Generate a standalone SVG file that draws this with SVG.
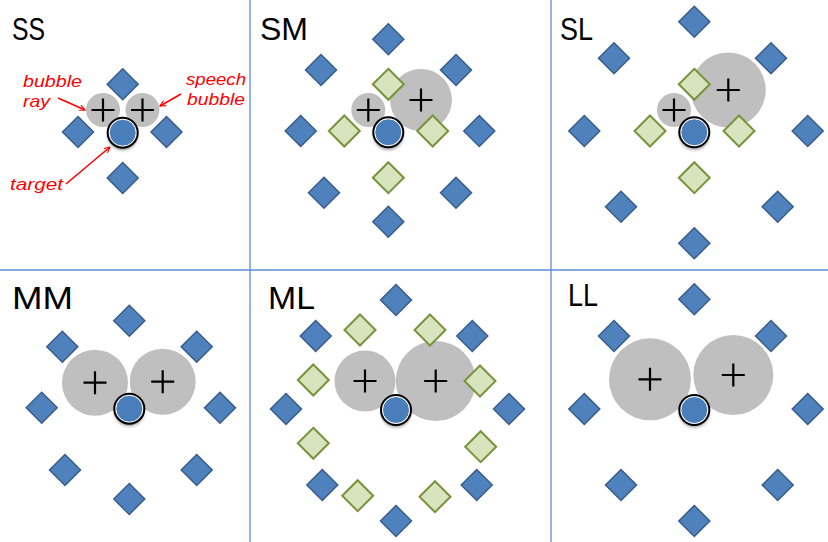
<svg xmlns="http://www.w3.org/2000/svg" xmlns:xlink="http://www.w3.org/1999/xlink" width="828" height="542" viewBox="0 0 828 542">
  <style>
    .grid { stroke: #5a8ed8; stroke-width: 1.3; }
    .b { fill: #4f81bd; stroke: #385d8a; stroke-width: 1.5; }
    .g { fill: #d7e4bd; stroke: #77933c; stroke-width: 2; }
    .bub { fill: #bfbfbf; }
    .plus { stroke: #000; stroke-width: 2.2; fill: none; }
    .tfill { fill: #4a7ebb; stroke: #fff; stroke-width: 1; }
    .tring { fill: none; stroke: #000; stroke-width: 2; }
    .title { font-family: "Liberation Sans", Arial, sans-serif; font-size: 31px; fill: #000; }
    .ann { font-family: "Liberation Sans", Arial, sans-serif; font-size: 17px; font-style: italic; fill: #ff0000; }
    .arr { stroke: #ff0000; stroke-width: 1.6; fill: none; marker-end: url(#ah); }
  </style>
  <defs>
    <path id="dm" d="M0,-15.5 L15.5,0 L0,15.5 L-15.5,0 Z"/>
    <path id="pl" d="M-11.5,0 H11.5 M0,-11.5 V11.5"/>
    <g id="tg">
      <circle r="15" fill="#ffffff" filter="url(#sh)"/>
      <circle r="13.5" class="tfill"/>
      <circle r="15" class="tring"/>
    </g>
    <filter id="sh" x="-50%" y="-50%" width="200%" height="200%">
      <feDropShadow dx="0" dy="2.5" stdDeviation="1.8" flood-color="#000" flood-opacity="0.4"/>
    </filter>
    <marker id="ah" viewBox="0 0 10 10" refX="9" refY="5" markerWidth="7" markerHeight="7" orient="auto" markerUnits="userSpaceOnUse">
      <path d="M1,1 L9,5 L1,9" fill="none" stroke="#ff0000" stroke-width="1.6"/>
    </marker>
  </defs>
  <rect width="828" height="542" fill="#ffffff"/>

  <g id="grid">
    <line class="grid" x1="250" y1="0" x2="250" y2="542"/>
    <line class="grid" x1="551" y1="0" x2="551" y2="542"/>
    <line class="grid" x1="0" y1="270" x2="828" y2="270"/>
  </g>

  <!-- SS -->
  <g id="panel-SS">
    <text class="title" x="12" y="40" textLength="33" lengthAdjust="spacingAndGlyphs">SS</text>
    <g id="ss-ray"><circle class="bub" cx="103" cy="110" r="17"/><use href="#pl" class="plus" x="103" y="110"/></g>
    <g id="ss-speech"><circle class="bub" cx="142.5" cy="110" r="17"/><use href="#pl" class="plus" x="142.5" y="110"/></g>
    <g id="ss-d1"><use href="#dm" class="b" x="122.7" y="84.3"/></g>
    <g id="ss-d2"><use href="#dm" class="b" x="78" y="132"/></g>
    <g id="ss-d3"><use href="#dm" class="b" x="166.5" y="132"/></g>
    <g id="ss-d4"><use href="#dm" class="b" x="122.7" y="178"/></g>
    <g id="ss-target"><use href="#tg" x="122.7" y="132.7"/></g>
    <g id="ss-labels">
      <text class="ann" x="23" y="86.5" textLength="59" lengthAdjust="spacingAndGlyphs">bubble</text>
      <text class="ann" x="23" y="106.5" textLength="27" lengthAdjust="spacingAndGlyphs">ray</text>
      <text class="ann" x="186" y="85" textLength="60" lengthAdjust="spacingAndGlyphs">speech</text>
      <text class="ann" x="187" y="105" textLength="58" lengthAdjust="spacingAndGlyphs">bubble</text>
      <text class="ann" x="10" y="190" textLength="53" lengthAdjust="spacingAndGlyphs">target</text>
    </g>
  </g>
  <g id="connectors">
    <line class="arr" x1="58" y1="98" x2="85" y2="110"/>
    <line class="arr" x1="181" y1="94" x2="160" y2="106"/>
    <line class="arr" x1="66" y1="184" x2="110" y2="147"/>
  </g>

  <!-- SM -->
  <g id="panel-SM">
    <text class="title" x="260" y="40" textLength="48" lengthAdjust="spacingAndGlyphs">SM</text>
    <g id="sm-ray"><circle class="bub" cx="368.3" cy="110" r="17"/><use href="#pl" class="plus" x="368.3" y="110"/></g>
    <g id="sm-speech"><circle class="bub" cx="421" cy="100" r="31"/><use href="#pl" class="plus" x="421" y="100"/></g>
    <g id="sm-b1"><use href="#dm" class="b" x="388.3" y="39.3"/></g>
    <g id="sm-b2"><use href="#dm" class="b" x="321" y="70"/></g>
    <g id="sm-b3"><use href="#dm" class="b" x="456" y="70"/></g>
    <g id="sm-b4"><use href="#dm" class="b" x="300.7" y="131"/></g>
    <g id="sm-b5"><use href="#dm" class="b" x="479.3" y="131"/></g>
    <g id="sm-b6"><use href="#dm" class="b" x="324" y="192.7"/></g>
    <g id="sm-b7"><use href="#dm" class="b" x="456" y="192.7"/></g>
    <g id="sm-b8"><use href="#dm" class="b" x="388.3" y="221.7"/></g>
    <g id="sm-g1"><use href="#dm" class="g" x="388.3" y="84.3"/></g>
    <g id="sm-g2"><use href="#dm" class="g" x="344.3" y="131"/></g>
    <g id="sm-g3"><use href="#dm" class="g" x="432.7" y="131"/></g>
    <g id="sm-g4"><use href="#dm" class="g" x="388.3" y="177.7"/></g>
    <g id="sm-target"><use href="#tg" x="388.3" y="132.3"/></g>
  </g>

  <!-- SL -->
  <g id="panel-SL">
    <text class="title" x="560" y="40" textLength="33" lengthAdjust="spacingAndGlyphs">SL</text>
    <g id="sl-ray"><circle class="bub" cx="674" cy="110" r="17"/><use href="#pl" class="plus" x="674" y="110"/></g>
    <g id="sl-speech"><circle class="bub" cx="728.3" cy="90" r="37.5"/><use href="#pl" class="plus" x="728.3" y="90"/></g>
    <g id="sl-b1"><use href="#dm" class="b" x="694.3" y="21.7"/></g>
    <g id="sl-b2"><use href="#dm" class="b" x="614" y="58.3"/></g>
    <g id="sl-b3"><use href="#dm" class="b" x="771" y="58.3"/></g>
    <g id="sl-b4"><use href="#dm" class="b" x="584.3" y="131"/></g>
    <g id="sl-b5"><use href="#dm" class="b" x="807.7" y="131"/></g>
    <g id="sl-b6"><use href="#dm" class="b" x="621" y="206.7"/></g>
    <g id="sl-b7"><use href="#dm" class="b" x="777.7" y="206.7"/></g>
    <g id="sl-b8"><use href="#dm" class="b" x="694.3" y="243.3"/></g>
    <g id="sl-g1"><use href="#dm" class="g" x="694.3" y="84.3"/></g>
    <g id="sl-g2"><use href="#dm" class="g" x="650" y="131"/></g>
    <g id="sl-g3"><use href="#dm" class="g" x="739" y="131"/></g>
    <g id="sl-g4"><use href="#dm" class="g" x="694.3" y="177.7"/></g>
    <g id="sl-target"><use href="#tg" x="694.3" y="132.3"/></g>
  </g>

  <!-- MM -->
  <g id="panel-MM">
    <text class="title" x="12" y="309" textLength="61" lengthAdjust="spacingAndGlyphs">MM</text>
    <g id="mm-ray"><circle class="bub" cx="95" cy="382.7" r="33"/><use href="#pl" class="plus" x="95" y="382.7"/></g>
    <g id="mm-speech"><circle class="bub" cx="162.7" cy="381.7" r="33"/><use href="#pl" class="plus" x="162.7" y="381.7"/></g>
    <g id="mm-b1"><use href="#dm" class="b" x="129.3" y="320.7"/></g>
    <g id="mm-b2"><use href="#dm" class="b" x="62.3" y="346.7"/></g>
    <g id="mm-b3"><use href="#dm" class="b" x="196.7" y="346.7"/></g>
    <g id="mm-b4"><use href="#dm" class="b" x="41.7" y="407.7"/></g>
    <g id="mm-b5"><use href="#dm" class="b" x="220" y="407.7"/></g>
    <g id="mm-b6"><use href="#dm" class="b" x="65" y="470"/></g>
    <g id="mm-b7"><use href="#dm" class="b" x="196.7" y="470"/></g>
    <g id="mm-b8"><use href="#dm" class="b" x="129.3" y="499"/></g>
    <g id="mm-target"><use href="#tg" x="129.3" y="408.7"/></g>
  </g>

  <!-- ML -->
  <g id="panel-ML">
    <text class="title" x="268" y="309" textLength="47" lengthAdjust="spacingAndGlyphs">ML</text>
    <g id="ml-ray"><circle class="bub" cx="365" cy="381" r="30.5"/><use href="#pl" class="plus" x="365" y="381"/></g>
    <g id="ml-speech"><circle class="bub" cx="435.7" cy="381" r="40"/><use href="#pl" class="plus" x="435.7" y="381"/></g>
    <g id="ml-b1"><use href="#dm" class="b" x="396" y="300"/></g>
    <g id="ml-b2"><use href="#dm" class="b" x="315.7" y="336"/></g>
    <g id="ml-b3"><use href="#dm" class="b" x="472.3" y="336"/></g>
    <g id="ml-b4"><use href="#dm" class="b" x="286" y="409"/></g>
    <g id="ml-b5"><use href="#dm" class="b" x="509" y="409"/></g>
    <g id="ml-b6"><use href="#dm" class="b" x="322.3" y="485"/></g>
    <g id="ml-b7"><use href="#dm" class="b" x="476.7" y="485"/></g>
    <g id="ml-b8"><use href="#dm" class="b" x="396" y="521"/></g>
    <g id="ml-g1"><use href="#dm" class="g" x="360" y="330"/></g>
    <g id="ml-g2"><use href="#dm" class="g" x="430" y="330"/></g>
    <g id="ml-g3"><use href="#dm" class="g" x="313.3" y="380"/></g>
    <g id="ml-g4"><use href="#dm" class="g" x="480" y="381"/></g>
    <g id="ml-g5"><use href="#dm" class="g" x="313.3" y="443.3"/></g>
    <g id="ml-g6"><use href="#dm" class="g" x="480.7" y="446.7"/></g>
    <g id="ml-g7"><use href="#dm" class="g" x="357.7" y="495.7"/></g>
    <g id="ml-g8"><use href="#dm" class="g" x="435" y="496.7"/></g>
    <g id="ml-target"><use href="#tg" x="396" y="410"/></g>
  </g>

  <!-- LL -->
  <g id="panel-LL">
    <text class="title" x="568" y="306" textLength="30" lengthAdjust="spacingAndGlyphs">LL</text>
    <g id="ll-ray"><circle class="bub" cx="650" cy="379.3" r="41"/><use href="#pl" class="plus" x="650" y="379.3"/></g>
    <g id="ll-speech"><circle class="bub" cx="733.3" cy="375" r="40"/><use href="#pl" class="plus" x="733.3" y="375"/></g>
    <g id="ll-b1"><use href="#dm" class="b" x="694.3" y="299.3"/></g>
    <g id="ll-b2"><use href="#dm" class="b" x="614" y="336"/></g>
    <g id="ll-b3"><use href="#dm" class="b" x="771" y="336"/></g>
    <g id="ll-b4"><use href="#dm" class="b" x="584.3" y="409"/></g>
    <g id="ll-b5"><use href="#dm" class="b" x="807.7" y="409"/></g>
    <g id="ll-b6"><use href="#dm" class="b" x="621" y="485"/></g>
    <g id="ll-b7"><use href="#dm" class="b" x="777.7" y="485"/></g>
    <g id="ll-b8"><use href="#dm" class="b" x="694.3" y="521"/></g>
    <g id="ll-target"><use href="#tg" x="694.3" y="410"/></g>
  </g>
</svg>
